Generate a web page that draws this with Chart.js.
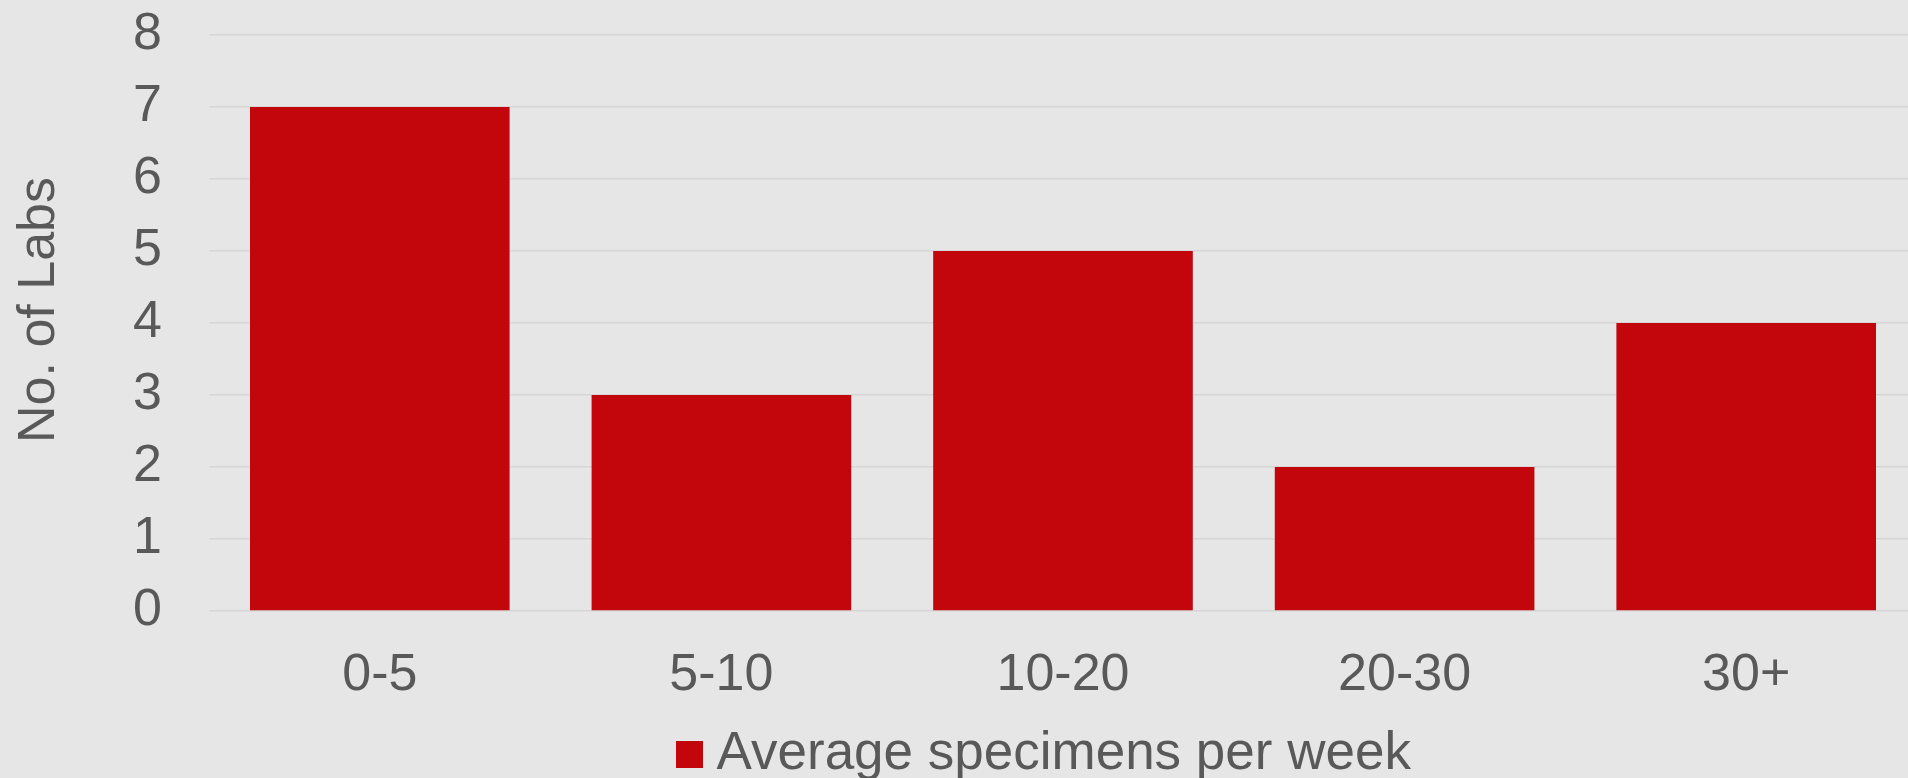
<!DOCTYPE html>
<html>
<head>
<meta charset="utf-8">
<script src="https://cdn.jsdelivr.net/npm/chart.js@4/dist/chart.umd.min.js"></script>
<style>
  html, body { margin: 0; padding: 0; background: #e6e6e6; overflow: hidden; }
  #wrap { position: absolute; left: 0; top: 0; width: 1920px; height: 778px; }
</style>
</head>
<body>
<div id="wrap"><canvas id="chart"></canvas></div>
<script>
// Number of labs by average specimens received per week
const categories = ['0-5', '5-10', '10-20', '20-30', '30+'];
const labCounts = [7, 3, 5, 2, 4];
const seriesName = 'Average specimens per week';
const yAxisTitle = 'No. of Labs';

const FONT = '"Liberation Sans", Arial, sans-serif';
const TEXT = '#595959';
const RED = '#c3050c';

// square legend marker drawn as a small canvas
const marker = document.createElement('canvas');
marker.width = 27; marker.height = 27;
const mctx = marker.getContext('2d');
mctx.fillStyle = RED;
mctx.fillRect(0, 0, 27, 27);

new Chart(document.getElementById('chart'), {
  type: 'bar',
  data: {
    labels: categories,
    datasets: [{
      label: seriesName,
      data: labCounts,
      backgroundColor: RED,
      borderWidth: 0,
      categoryPercentage: 1,
      barPercentage: 0.76
    }]
  },
  options: {
    responsive: true,
    maintainAspectRatio: false,
    animation: false,
    layout: { padding: { top: 35, right: 3, bottom: -13, left: 0 } },
    plugins: {
      tooltip: { enabled: false },
      legend: {
        position: 'bottom',
        fullSize: false,
        labels: {
          usePointStyle: true,
          boxWidth: 1,
          boxHeight: 27,
          padding: 2,
          color: TEXT,
          font: { family: FONT, size: 53 },
          generateLabels(chart) {
            return chart.data.datasets.map((ds, i) => ({
              text: ds.label,
              fillStyle: RED,
              strokeStyle: RED,
              lineWidth: 0,
              pointStyle: marker,
              fontColor: TEXT,
              hidden: false,
              datasetIndex: i
            }));
          }
        }
      }
    },
    scales: {
      x: {
        grid: { display: false, drawTicks: false },
        border: { display: false },
        ticks: { color: TEXT, font: { family: FONT, size: 52 }, padding: 33 },
        afterFit(scale) {
          scale.height = 115;
          scale.paddingLeft = 0;
          scale.paddingRight = 0;
        }
      },
      y: {
        min: 0,
        max: 8,
        ticks: { stepSize: 1, color: TEXT, font: { family: FONT, size: 52 }, padding: 47 },
        grid: { color: '#d6d6d6', lineWidth: 1.5, drawTicks: false },
        border: { display: false },
        title: {
          display: true,
          text: yAxisTitle,
          color: TEXT,
          font: { family: FONT, size: 52 },
          padding: { top: 8, bottom: 0 }
        },
        afterFit(scale) {
          scale.width = 209;
          scale.paddingTop = 0;
          scale.paddingBottom = 0;
        }
      }
    }
  },
  plugins: [{
    id: 'bg',
    beforeDraw(chart) {
      const c = chart.ctx;
      c.save();
      c.fillStyle = '#e6e6e6';
      c.fillRect(0, 0, chart.width, chart.height);
      c.restore();
    }
  }, {
    // nudge the legend row left of the plot centre and lift the y title slightly
    id: 'nudges',
    afterLayout(chart) {
      if (chart.legend) {
        chart.legend.left -= 13;
        chart.legend.right -= 13;
      }
      const y = chart.scales.y;
      if (y && !y._titleNudged) {
        const drawTitle = y.drawTitle.bind(y);
        y.drawTitle = function () {
          const c = this.ctx;
          c.save();
          c.translate(0, -13);
          drawTitle();
          c.restore();
        };
        y._titleNudged = true;
      }
    }
  }]
});
</script>
</body>
</html>
